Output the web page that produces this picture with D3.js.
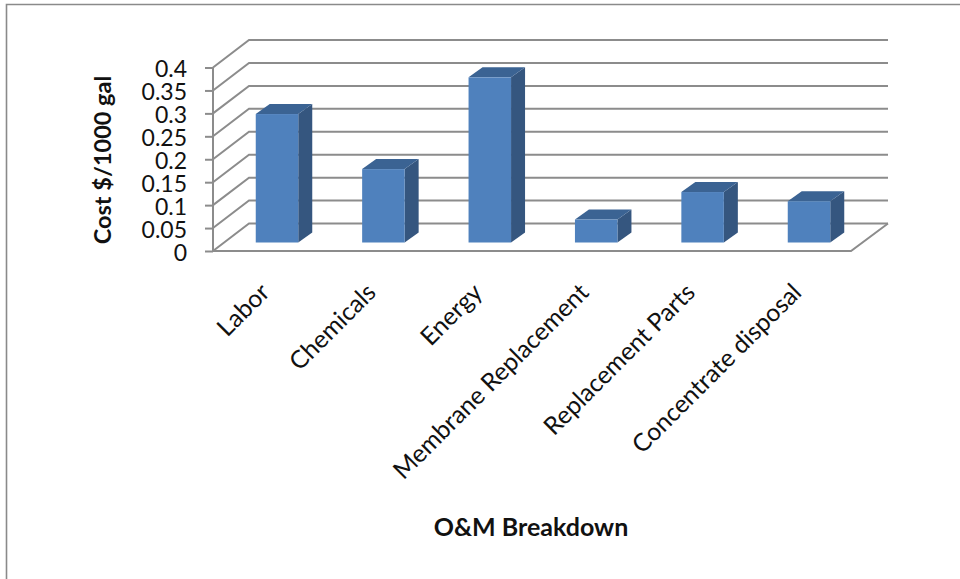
<!DOCTYPE html>
<html><head><meta charset="utf-8">
<script src="https://cdnjs.cloudflare.com/ajax/libs/d3/7.8.5/d3.min.js"></script>
<style>html,body{margin:0;padding:0;background:#fff}svg{display:block}</style>
</head><body><svg id="c" width="960" height="579"></svg>
<script>
const categories = ["Labor","Chemicals","Energy","Membrane Replacement","Replacement Parts","Concentrate disposal"];
const values = [0.28,0.16,0.36,0.05,0.11,0.09];
const yTicks = [0,0.05,0.1,0.15,0.2,0.25,0.3,0.35,0.4];
const yTitle = "Cost $/1000 gal";
const xTitle = "O&M Breakdown";

const svg = d3.select("#c");
const font = "Lato, Carlito, 'Open Sans', sans-serif";
const gridC = "#8c8c8c";

// frame
svg.append("path").attr("d","M6.5,579V4.5H960").attr("fill","none").attr("stroke","#8a8a8a").attr("stroke-width",1.6);

// projected 3D geometry
const x0 = 213, x1 = 851, depthX = 36, depthY = 27.5;
const yFront = d3.scaleLinear().domain([0,0.4]).range([251,67.5]);
const bw = 42.5, barDx = 14, barDy = 10;
const xCenter = d3.scalePoint().domain(categories).range([277,809]);
const yBar = d3.scaleLinear().domain([0,0.4]).range([242.5,59]);

// gridlines on the side and back walls
const grid = svg.append("g").attr("fill","none").attr("stroke",gridC);
grid.selectAll("path.g").data(yTicks).join("path").attr("class","g")
  .attr("stroke-width",2)
  .attr("d",d=>`M${x0},${yFront(d)}L${x0+depthX},${yFront(d)-depthY}L${x1+depthX+1},${yFront(d)-depthY}`);
// floor front and right edges
grid.append("path").attr("stroke-width",2)
  .attr("d",`M${x0},${yFront(0)}L${x1},${yFront(0)}L${x1+depthX+1},${yFront(0)-depthY}`);

// y axis
const axis = d3.axisLeft(yFront).tickValues(yTicks).tickFormat(d=>String(d)).tickSize(8).tickPadding(18);
const ga = svg.append("g").attr("transform",`translate(${x0},0)`).call(axis);
ga.select(".domain").attr("stroke",gridC).attr("stroke-width",2).attr("d",`M0,${yFront(0)}V${yFront(0.4)}`);
ga.selectAll(".tick line").attr("stroke",gridC).attr("stroke-width",2);
ga.selectAll("text").attr("font-family",font).attr("font-size",23).attr("fill","#111").attr("dy","0.4em");

// bars
const bars = svg.append("g").selectAll("g").data(categories).join("g");
bars.append("path").attr("fill","#35567f")
  .attr("d",(c,i)=>{const r=xCenter(c)+bw/2,t=yBar(values[i]),b=yBar(0);
    return `M${r},${t}L${r+barDx},${t-barDy}V${b-barDy}L${r},${b}Z`;});
bars.append("path").attr("fill","#3b6393")
  .attr("d",(c,i)=>{const l=xCenter(c)-bw/2,r=l+bw,t=yBar(values[i]);
    return `M${l},${t}L${l+barDx},${t-barDy}H${r+barDx}L${r},${t}Z`;});
bars.append("rect").attr("fill","#4f81bd")
  .attr("x",c=>xCenter(c)-bw/2).attr("width",bw)
  .attr("y",(c,i)=>yBar(values[i])).attr("height",(c,i)=>yBar(0)-yBar(values[i]));

// category labels
svg.append("g").selectAll("text").data(categories).join("text")
  .attr("text-anchor","end").attr("font-family",font).attr("font-size",24.7).attr("fill","#111")
  .attr("transform",c=>`translate(${xCenter(c)-6},${294}) rotate(-45)`)
  .text(c=>c);

// titles
svg.append("text").attr("text-anchor","middle").attr("font-family",font).attr("font-weight",700)
  .attr("font-size",23.5).attr("fill","#111")
  .attr("transform","translate(111,160) rotate(-90)").text(yTitle);
svg.append("text").attr("text-anchor","middle").attr("font-family",font).attr("font-weight",700)
  .attr("font-size",25).attr("fill","#111")
  .attr("x",531).attr("y",536).text(xTitle);
</script></body></html>
